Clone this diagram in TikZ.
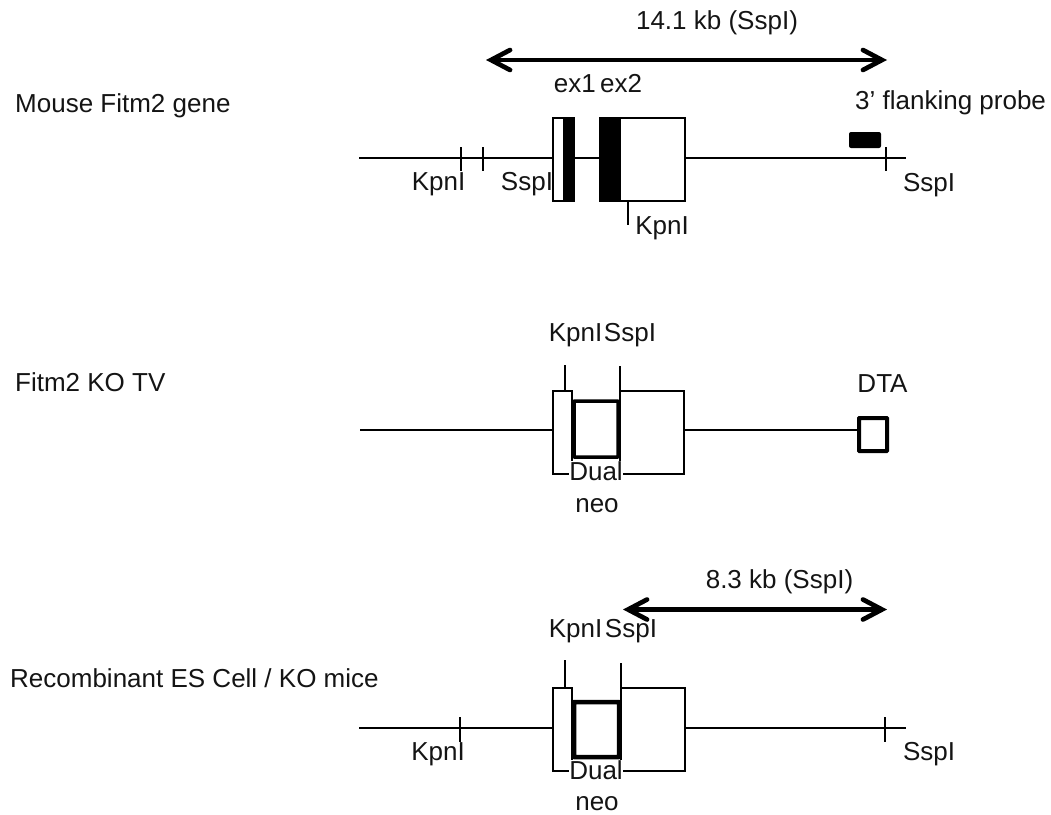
\documentclass[tikz,border=0pt]{standalone}
\usepackage{fontspec}
\setmainfont{Liberation Sans}
\usetikzlibrary{arrows.meta,positioning}
\definecolor{ink}{RGB}{20,20,20}
\tikzset{
  lbl/.style={font=\fontsize{26}{30}\selectfont,text=ink,inner sep=0pt,anchor=base},
  tagbox/.style={lbl,fill=white,inner sep=0.5pt},
  line/.style={line width=2pt,black},
  exon/.style={draw=black,line width=2pt,fill=white,inner sep=0pt,minimum width=#1,minimum height=83pt},
  coding/.style={fill=black,inner sep=0pt,minimum width=#1,minimum height=83pt},
  cassette/.style={draw=black,line width=3.5pt,fill=white,inner sep=0pt,rounded corners=0.5pt},
  span/.style={line width=4.7pt,line cap=round,{Straight Barb[length=19pt,width=20pt,line cap=round]}-{Straight Barb[length=19pt,width=20pt,line cap=round]}}
}
\begin{document}
\begin{tikzpicture}[x=1pt,y=-1pt]
  \useasboundingbox (0,0) rectangle (1051,814);
  % gene
  \coordinate (a0) at (359,158);
  \coordinate (a9) at (906,158);
  \node[exon=21pt] (a1) at (563.5,159.5) {};
  \node[exon=85pt] (a2) at (642.5,159.5) {};
  \draw[line] (a0) -- (a1.west |- a0);
  \draw[line] (a1.east |- a0) -- (a2.west |- a0);
  \draw[line] (a2.east |- a0) -- (a9);
  \node[coding=11pt] (c1) at (568.5,159.5) {};
  \node[coding=21pt] (c2) at (610.5,159.5) {};
  \foreach \n/\x in {a/461,b/483,c/886}
    \draw[line] (\x,147) coordinate (t\n) -- (\x,171) coordinate (u\n);
  \coordinate (k1) at (628,225);
  \draw[line] (a2.south -| k1) -- (k1);
  \node[fill=black,rounded corners=2pt,minimum width=32pt,minimum height=16pt,inner sep=0pt] (probe) at (865,140) {};
  \coordinate (s1) at (486,60);
  \coordinate (s2) at (887,60);
  \draw[span] (s1) -- (s2);
  \node[lbl] (n1) at (717,29) {14.1 kb (SspI)};
  \node[lbl] (n2) at (598,92) {ex1\hspace{-3pt} ex2};
  \node[lbl,anchor=base west] (n3) at (855,109) {3’ flanking probe};
  \node[lbl,anchor=base west] (n4) at (15,112) {Mouse Fitm2 gene};
  \node[lbl] (n5) at (438.5,190) {KpnI};
  \node[lbl] (n6) at (527,190) {SspI};
  \node[lbl] (n7) at (662,234) {KpnI};
  \node[lbl] (n8) at (929,191) {SspI};
  % targeting vector
  \coordinate (b0) at (360,430);
  \node[exon=19pt] (b1) at (562.5,432.5) {};
  \node[exon=64pt] (b2) at (652,432.5) {};
  \node[cassette,minimum width=44pt,minimum height=56pt] (b3) at (596,429) {};
  \node[cassette,line width=4pt,minimum width=28pt,minimum height=33pt] (b4) at (873,434.5) {};
  \draw[line] (b0) -- (b1.west |- b0);
  \draw[line] (b2.east |- b0) -- (b4.west |- b0);
  \coordinate (k2) at (565,365);
  \coordinate (s3) at (620,366);
  \draw[line] (b1.north -| k2) -- (k2);
  \draw[line] (b2.north -| s3) -- (s3);
  \node[lbl] (n9) at (575.5,341) {KpnI};
  \node[lbl] (n10) at (630,341) {SspI};
  \node[lbl] (n11) at (882.5,392) {DTA};
  \node[lbl,anchor=base west] (n12) at (15,391) {Fitm2 KO TV};
  \node[tagbox] (n13) at (596,480) {Dual};
  \node[lbl] (n14) at (597,512) {neo};
  % recombinant allele
  \coordinate (r0) at (359,728);
  \coordinate (r9) at (906,728);
  \node[exon=19pt] (r1) at (562.5,729.5) {};
  \node[exon=64pt] (r2) at (653,729.5) {};
  \node[cassette,line width=4.5pt,minimum width=45pt,minimum height=55pt] (r3) at (596.5,729.5) {};
  \draw[line] (r0) -- (r1.west |- r0);
  \draw[line] (r2.east |- r0) -- (r9);
  \foreach \n/\x in {a/460,b/885}
    \draw[line] (\x,717) coordinate (v\n) -- (\x,742) coordinate (w\n);
  \coordinate (k3) at (565,660);
  \coordinate (s4) at (621,663);
  \draw[line] (r1.north -| k3) -- (k3);
  \draw[line] (r2.north -| s4) -- (s4);
  \coordinate (s5) at (623,609.5);
  \coordinate (s6) at (887,609.5);
  \draw[span] (s5) -- (s6);
  \node[lbl] (n15) at (779.5,588) {8.3 kb (SspI)};
  \node[lbl] (n16) at (575.5,637) {KpnI};
  \node[lbl] (n17) at (631,637) {SspI};
  \node[lbl] (n18) at (438,760) {KpnI};
  \node[lbl] (n19) at (929,760) {SspI};
  \node[lbl,anchor=base west] (n20) at (10,687) {Recombinant\hspace{0pt} ES Cell / KO mice};
  \node[tagbox] (n21) at (596,779) {Dual};
  \node[lbl] (n22) at (597,810) {neo};
\end{tikzpicture}
\end{document}
